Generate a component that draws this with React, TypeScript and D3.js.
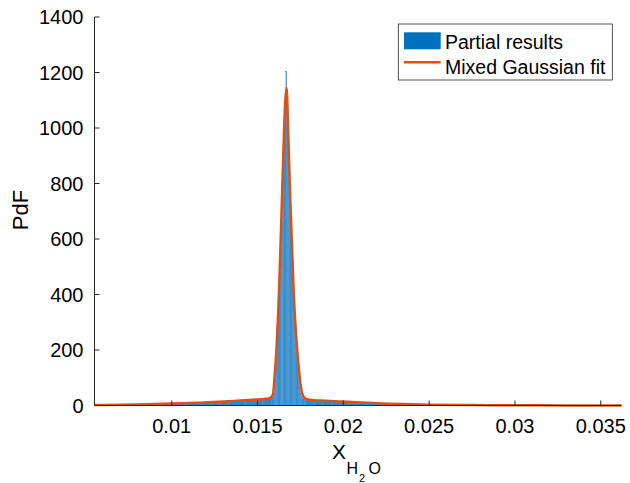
import React from "react";
import * as d3 from "d3";

// ---- data ----
const xTicks = [0.01, 0.015, 0.02, 0.025, 0.03, 0.035];
const xTickLabels = ["0.01", "0.015", "0.02", "0.025", "0.03", "0.035"];
const yTicks = [0, 200, 400, 600, 800, 1000, 1200, 1400];
const yTickLabels = ["0", "200", "400", "600", "800", "1000", "1200", "1400"];

// histogram: left tail bins (width 0.0005 starting at 0.0058)
const leftTailStart = 0.0058;
const tailWidth = 0.0005;
const leftTailCounts = [1, 1.5, 2, 2.5, 3, 3.5, 4.5, 5.5, 6.5, 7.5, 8.5, 10, 11, 12.5, 14, 16, 18, 20, 22, 24];
// core bins (width 0.00005 starting at 0.0158)
const coreStart = 0.0158;
const coreWidth = 0.00005;
const coreCounts = [
  26, 28, 33, 45, 95, 150, 195, 250, 320, 400,
  480, 570, 660, 760, 850, 950, 1060, 1205, 1140, 1000,
  900, 800, 700, 590, 520, 430, 360, 290, 240, 200,
  165, 130, 100, 65, 42, 32, 27, 24, 23, 22,
];
// right tail bins (width 0.0005 starting at 0.0178)
const rightTailStart = 0.0178;
const rightTailCounts = [20, 18, 17, 15, 13.5, 12, 10.5, 9, 7.5, 6, 5, 4, 3, 2.5, 2, 1.5];

// mixed gaussian fit curve
const fitX = [
  0.0055, 0.007, 0.0085, 0.01, 0.0115, 0.013, 0.014, 0.015, 0.0155, 0.0157,
  0.0159, 0.016, 0.0161, 0.0162, 0.0163, 0.0164, 0.0165, 0.0166, 0.01669, 0.0168,
  0.0169, 0.017, 0.0171, 0.0172, 0.0173, 0.0174, 0.0175, 0.0176, 0.0177, 0.0178,
  0.018, 0.019, 0.02, 0.021, 0.022, 0.0235, 0.025, 0.0275, 0.03, 0.033, 0.0362,
];
const fitY = [
  1.5, 2.5, 4.5, 7, 10, 14, 18, 22, 24, 26,
  40, 110, 200, 330, 500, 700, 900, 1080, 1145, 960,
  760, 590, 420, 300, 210, 140, 80, 45, 30, 25,
  21, 17, 14, 11, 8, 5, 3, 1.5, 0.8, 0.4, 0.2,
];

const legendLabels = ["Partial results", "Mixed Gaussian fit"];

const W = 630;
const H = 483;
const FONT = "'Liberation Sans', Arial, Helvetica, sans-serif";
const AX = "#262626";
const BAR = "#2F87C8";
const FIT = "#D95319";

export default function App() {
  const x = d3.scaleLinear().domain([0.0055, 0.03622]).range([94.5, 621.7]);
  const y = d3.scaleLinear().domain([0, 1400]).range([405.5, 17]);

  const bins: { x0: number; x1: number; v: number }[] = [];
  leftTailCounts.forEach((v, i) =>
    bins.push({ x0: leftTailStart + i * tailWidth, x1: leftTailStart + (i + 1) * tailWidth, v })
  );
  coreCounts.forEach((v, i) =>
    bins.push({ x0: coreStart + i * coreWidth, x1: coreStart + (i + 1) * coreWidth, v })
  );
  rightTailCounts.forEach((v, i) =>
    bins.push({ x0: rightTailStart + i * tailWidth, x1: rightTailStart + (i + 1) * tailWidth, v })
  );

  const line = d3
    .line<number>()
    .x((_, i) => x(fitX[i]))
    .y((d) => y(d))
    .curve(d3.curveMonotoneX);
  const fitPath = line(fitY) || "";

  const [x0, x1] = x.range();
  const [yb, yt] = y.range();

  return (
    <svg width={W} height={H} style={{ position: "absolute", left: 0, top: 0, background: "#fff" }} fontFamily={FONT}>
      <rect width={W} height={H} fill="#fff" />
      {/* bars */}
      <g>
        {bins.map((b, i) => (
          <rect
            key={i}
            x={x(b.x0)}
            y={y(b.v)}
            width={Math.max(0.5, x(b.x1) - x(b.x0))}
            height={y(0) - y(b.v)}
            fill={BAR}
            stroke={BAR}
            strokeWidth={0.2}
          />
        ))}
      </g>
      {/* fit */}
      <path d={fitPath} fill="none" stroke={FIT} strokeWidth={2.5} strokeLinejoin="round" />

      {/* axes */}
      <line x1={x0} x2={x0} y1={yb} y2={yt} stroke={AX} strokeWidth={1} />
      <line x1={x0} x2={x1} y1={yb} y2={yb} stroke={AX} strokeWidth={1} />
      {yTicks.map((t, i) => (
        <g key={"y" + i}>
          <line x1={x0} x2={x0 + 5} y1={y(t)} y2={y(t)} stroke={AX} />
          <text x={83.5} y={y(t)} dy="0.36em" textAnchor="end" fontSize={20} fill="#000">
            {yTickLabels[i]}
          </text>
        </g>
      ))}
      {xTicks.map((t, i) => (
        <g key={"x" + i}>
          <line x1={x(t)} x2={x(t)} y1={yb} y2={yb - 5} stroke={AX} />
          <text x={x(t)} y={433} textAnchor="middle" fontSize={20} fill="#000">
            {xTickLabels[i]}
          </text>
        </g>
      ))}

      {/* y label */}
      <text transform="translate(28,210) rotate(-90)" textAnchor="middle" fontSize={22} fill="#000">
        PdF
      </text>
      {/* x label */}
      <text x={332} y={459} fontSize={21} fill="#000">X</text>
      <text x={346.5} y={474} fontSize={16} fill="#000">H</text>
      <text x={359} y={481.5} fontSize={11} fill="#000">2</text>
      <text x={368.5} y={474} fontSize={16} fill="#000">O</text>

      {/* legend */}
      <rect x={398.3} y={24} width={214} height={56} fill="#fff" stroke={AX} strokeWidth={0.8} />
      <rect x={404} y={32.3} width={36.7} height={17} fill="#0072BD" />
      <line x1={404} x2={440.7} y1={62.3} y2={62.3} stroke={FIT} strokeWidth={2.5} />
      <text x={445} y={48.5} fontSize={19.5} fill="#000">{legendLabels[0]}</text>
      <text x={445} y={73.5} fontSize={19.5} fill="#000">{legendLabels[1]}</text>
    </svg>
  );
}
